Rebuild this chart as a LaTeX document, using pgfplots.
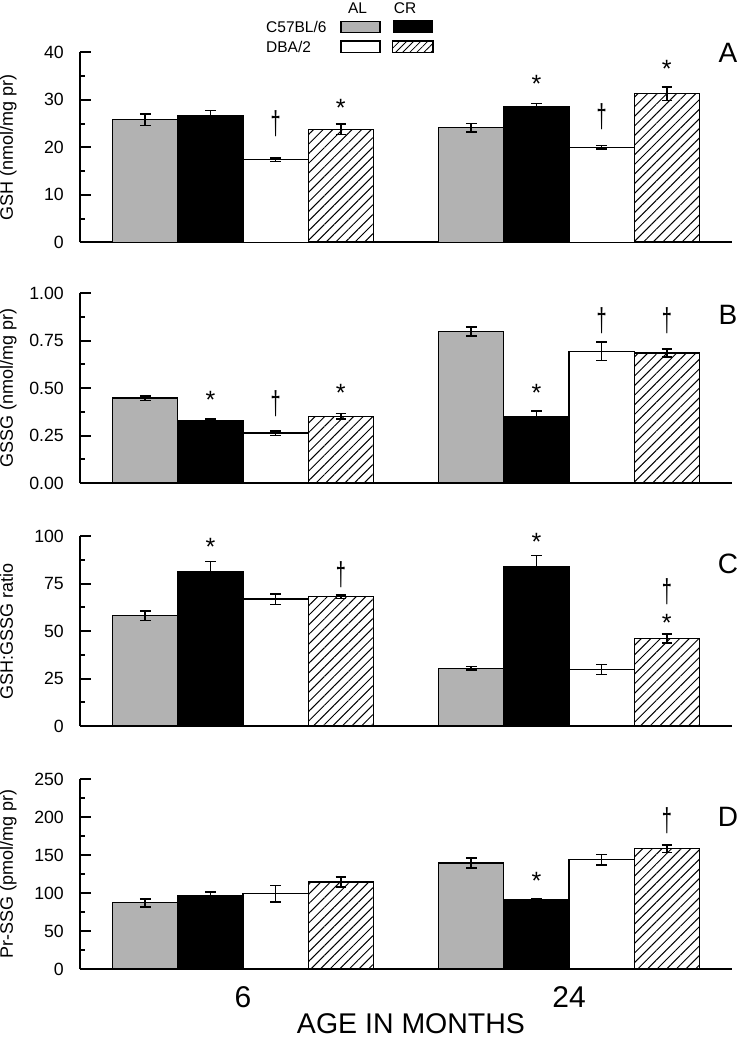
\documentclass[border=0pt]{standalone}
\usepackage{fontspec}
\setmainfont{Liberation Sans}
\usepackage{graphicx}
\usepackage{pgfplots}
\pgfplotsset{compat=1.18}
\usetikzlibrary{patterns.meta}

\definecolor{barGray}{RGB}{178,178,178}

\newcommand{\tickfont}{\fontsize{17.7}{20}\selectfont}
\newcommand{\labfont}{\fontsize{18}{20}\selectfont}
\newcommand{\legfont}{\fontsize{15.5}{18}\selectfont}
\newcommand{\letfont}{\fontsize{28}{30}\selectfont}
\newcommand{\starfont}{\fontsize{25}{26}\selectfont}
\newcommand{\dagfont}{\fontsize{33}{34}\selectfont}
\newcommand{\st}{*}
\newcommand{\dg}{\scalebox{0.55}[1]{\textdagger}}

\pgfplotsset{
  panel/.style={
    scale only axis, width=652pt, height=190pt,
    anchor=south west,
    xmin=0, xmax=10, ymin=0,
    axis lines=left,
    x axis line style={-, line width=2pt},
    y axis line style={-, line width=2pt},
    xtick=\empty,
    tick align=inside,
    major tick length=11pt, minor tick length=5pt,
    every tick/.style={black, line width=2pt},
    minor y tick num=1,
    /pgf/number format/assume math mode=true,
    yticklabel style={font=\tickfont, inner sep=0pt, xshift=-16pt},
    ylabel style={font=\labfont, at={(axis description cs:-0.1028,0.5)}, anchor=base},
    clip=false,
    ybar, bar width=1,
    error bars/y dir=both, error bars/y explicit,
    error bars/error bar style={black, line width=1.5pt},
    error bars/error mark options={black, rotate=90, mark size=5.3pt, line width=1.5pt},
  },
  c57al/.style={fill=barGray, draw=black, line width=1.2pt, bar shift=0pt},
  c57cr/.style={fill=black, draw=black, line width=1.2pt, bar shift=0pt},
  dbaal/.style={fill=white, draw=black, line width=1.2pt, bar shift=0pt},
  dbacr/.style={pattern={Lines[angle=45,distance=6.8pt,line width=1pt]}, draw=black, line width=1.2pt, bar shift=0pt},
}
\tikzset{
  annstar/.style={anchor=north, inner sep=0pt, font=\starfont},
  anndag/.style={inner sep=0pt, font=\dagfont},
}

\begin{document}
\begin{tikzpicture}
\useasboundingbox (0,0) rectangle (740pt,-1049pt);

% legend
\node[anchor=base, font=\legfont] at (357.5pt,-13.3pt) {AL};
\node[anchor=base, font=\legfont] at (405pt,-13.3pt) {CR};
\node[anchor=base west, font=\legfont, inner sep=0pt] at (266pt,-32.7pt) {C57BL/6};
\node[anchor=base west, font=\legfont, inner sep=0pt] at (266pt,-52.7pt) {DBA/2};
\draw[line width=1.2pt, fill=barGray] (341pt,-21.5pt) rectangle (380pt,-32.7pt);
\fill[black] (392.5pt,-20.5pt) rectangle (433pt,-32.7pt);
\draw[line width=1.2pt, fill=white] (341pt,-41pt) rectangle (380pt,-52.7pt);
\draw[line width=1.2pt, pattern={Lines[angle=45,distance=5pt,line width=0.8pt]}] (392.5pt,-41pt) rectangle (433pt,-52.7pt);

% panel letters
\node[font=\letfont] at (728pt,-53pt) {A};
\node[font=\letfont] at (728pt,-315pt) {B};
\node[font=\letfont] at (728pt,-564pt) {C};
\node[font=\letfont] at (728pt,-817pt) {D};

% A: GSH
\begin{axis}[panel, at={(80pt,-242.3pt)},
  ymax=40, ytick={0,10,20,30,40},
  ylabel={GSH (nmol/mg pr)}]
\addplot[c57al] coordinates {(1,25.8) +- (0,1.2) (6,24.1) +- (0,0.9)};
\addplot[c57cr] coordinates {(2,26.6) +- (0,1.2) (7,28.5) +- (0,0.7)};
\addplot[dbaal] coordinates {(3,17.4) +- (0,0.4) (8,20.0) +- (0,0.4)};
\addplot[dbacr] coordinates {(4,23.8) +- (0,1.1) (9,31.3) +- (0,1.4)};
\node[anndag] at (axis cs:3,25.0) {\dg};
\node[annstar] at (axis cs:4,30.2) {\st};
\node[annstar] at (axis cs:7,35.2) {\st};
\node[anndag] at (axis cs:8,26.4) {\dg};
\node[annstar] at (axis cs:9,38.4) {\st};
\end{axis}

% B: GSSG
\begin{axis}[panel, at={(80pt,-483pt)},
  ymax=1, ytick={0,0.25,0.5,0.75,1},
  yticklabel style={/pgf/number format/.cd, fixed, fixed zerofill, precision=2},
  ylabel={GSSG (nmol/mg pr)}]
\addplot[c57al] coordinates {(1,0.447) +- (0,0.012) (6,0.798) +- (0,0.024)};
\addplot[c57cr] coordinates {(2,0.330) +- (0,0.006) (7,0.351) +- (0,0.029)};
\addplot[dbaal] coordinates {(3,0.263) +- (0,0.012) (8,0.693) +- (0,0.048)};
\addplot[dbacr] coordinates {(4,0.351) +- (0,0.015) (9,0.684) +- (0,0.022)};
\node[annstar] at (axis cs:2,0.482) {\st};
\node[anndag] at (axis cs:3,0.418) {\dg};
\node[annstar] at (axis cs:4,0.519) {\st};
\node[annstar] at (axis cs:7,0.521) {\st};
\node[anndag] at (axis cs:8,0.855) {\dg};
\node[anndag] at (axis cs:9,0.855) {\dg};
\end{axis}

% C: GSH:GSSG
\begin{axis}[panel, at={(80pt,-726pt)},
  ymax=100, ytick={0,25,50,75,100},
  ylabel={GSH:GSSG ratio}]
\addplot[c57al] coordinates {(1,58.0) +- (0,2.6) (6,30.4) +- (0,1.0)};
\addplot[c57cr] coordinates {(2,81.5) +- (0,5.2) (7,83.9) +- (0,5.9)};
\addplot[dbaal] coordinates {(3,66.8) +- (0,2.8) (8,29.7) +- (0,2.6)};
\addplot[dbacr] coordinates {(4,68.0) +- (0,0.9) (9,46.0) +- (0,2.4)};
\node[annstar] at (axis cs:2,99.1) {\st};
\node[anndag] at (axis cs:4,79.5) {\dg};
\node[annstar] at (axis cs:7,101.4) {\st};
\node[anndag] at (axis cs:9,70.5) {\dg};
\node[annstar] at (axis cs:9,58.8) {\st};
\end{axis}

% D: Pr-SSG
\begin{axis}[panel, at={(80pt,-969pt)},
  ymax=250, ytick={0,50,100,150,200,250},
  ylabel={Pr-SSG (pmol/mg pr)},
  xtick={2.5,7.5}, xticklabels={6,24},
  xtick style={draw=none},
  xticklabel style={font=\fontsize{30}{32}\selectfont, anchor=north, inner sep=0pt, yshift=-6.5pt},
  xlabel={AGE IN MONTHS},
  xlabel style={font=\fontsize{28.5}{30}\selectfont, at={(axis description cs:0.5,0)}, anchor=base, yshift=-64pt, xshift=5pt}]
\addplot[c57al] coordinates {(1,87.0) +- (0,5.2) (6,139.4) +- (0,6.6)};
\addplot[c57cr] coordinates {(2,97.0) +- (0,4.4) (7,91.3) +- (0,1.7)};
\addplot[dbaal] coordinates {(3,99.2) +- (0,11) (8,143.8) +- (0,6.8)};
\addplot[dbacr] coordinates {(4,114.5) +- (0,6.6) (9,158.2) +- (0,5.2)};
\node[annstar] at (axis cs:7,128) {\st};
\node[anndag] at (axis cs:9,194.7) {\dg};
\end{axis}
\end{tikzpicture}
\end{document}
